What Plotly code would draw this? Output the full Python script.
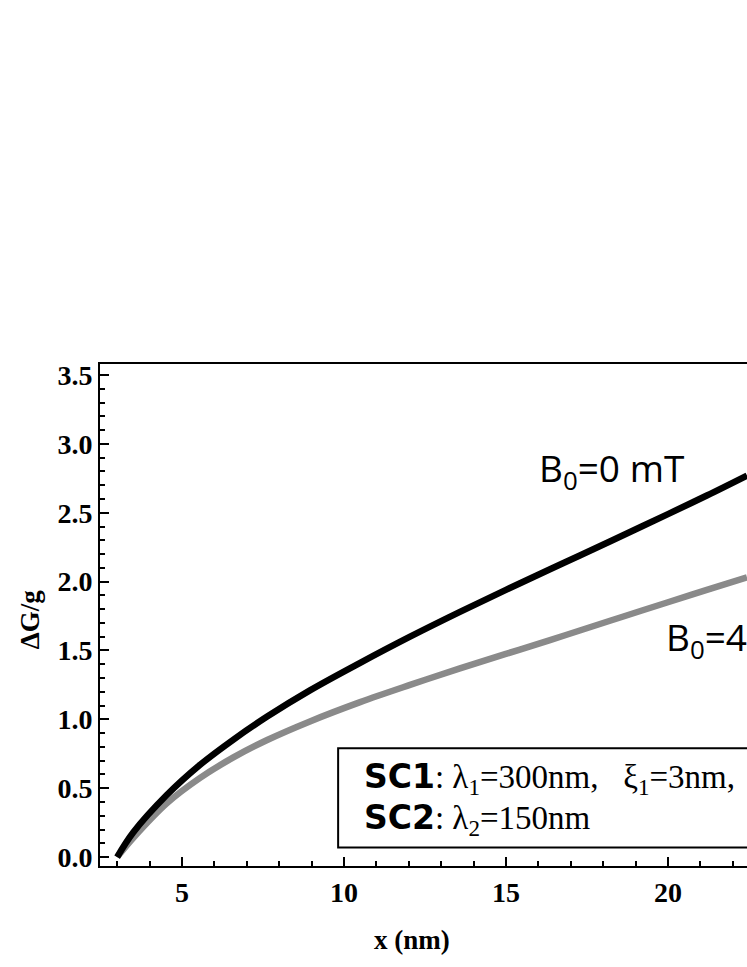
import plotly.graph_objects as go

# values
x_nm = [3.0, 3.5, 4.53, 5.56, 6.6, 7.63, 8.95, 10.5, 12.04, 13.58, 15.0, 16.36, 17.28, 18.6, 20.0, 21.2, 22.44]
dg_b0_0 = [0.0, 0.18, 0.45, 0.67, 0.855, 1.02, 1.21, 1.41, 1.60, 1.78, 1.94, 2.09, 2.19, 2.335, 2.49, 2.625, 2.77]
dg_b0_40 = [0.0, 0.14, 0.39, 0.575, 0.725, 0.85, 0.985, 1.125, 1.25, 1.37, 1.475, 1.575, 1.645, 1.745, 1.85, 1.94, 2.03]

x_ticks = [5, 10, 15, 20]
y_ticks = [0.0, 0.5, 1.0, 1.5, 2.0, 2.5, 3.0, 3.5]

SERIF = "Liberation Serif, Times New Roman, serif"
SANS = "Open Sans, Liberation Sans, sans-serif"

fig = go.Figure()
fig.add_trace(go.Scatter(x=x_nm, y=dg_b0_40, mode="lines",
                         line=dict(color="#8a8a8a", width=6.5, shape="spline", smoothing=1.0), showlegend=False))
fig.add_trace(go.Scatter(x=x_nm, y=dg_b0_0, mode="lines",
                         line=dict(color="#000000", width=6.5, shape="spline", smoothing=1.0), showlegend=False))

_axis = dict(showline=True, linecolor="black", linewidth=2, showgrid=False, zeroline=False,
             ticks="inside", tickcolor="black", tickwidth=2, ticklen=9,
             tickfont=dict(family=SERIF, size=28, color="black", weight="bold"))

fig.update_xaxes(**_axis, range=[2.47, 22.44], tickvals=x_ticks, mirror=True,
                 minor=dict(ticks="inside", dtick=1, tick0=0, ticklen=5, tickwidth=2, tickcolor="black"))
fig.update_yaxes(**_axis, range=[-0.065, 3.58], tickvals=y_ticks, tickformat=".1f",
                 minor=dict(ticks="inside", dtick=0.1, tick0=0, ticklen=5, tickwidth=2, tickcolor="black"))

# parameter box
fig.add_shape(type="rect", xref="x", yref="y", x0=9.82, x1=30, y0=0.07, y1=0.79,
              line=dict(color="black", width=2), fillcolor="white", layer="above")

sc = "<span style='font-family:DejaVu Sans'><b>%s</b></span>"
fig.add_annotation(xref="x", yref="y", x=10.56, y=0.57, xanchor="left", yanchor="middle", showarrow=False,
                   text=sc % "SC1" + ": λ<sub>1</sub>=300nm,   ξ<sub>1</sub>=3nm,",
                   font=dict(family=SERIF, size=33, color="black"))
fig.add_annotation(xref="x", yref="y", x=10.56, y=0.27, xanchor="left", yanchor="middle", showarrow=False,
                   text=sc % "SC2" + ": λ<sub>2</sub>=150nm",
                   font=dict(family=SERIF, size=33, color="black"))

# curve labels
fig.add_annotation(xref="x", yref="y", x=15.95, y=2.81, xanchor="left", yanchor="middle", showarrow=False,
                   text="B<sub>0</sub>=0 mT", font=dict(family=SANS, size=37, color="black"))
fig.add_annotation(xref="x", yref="y", x=19.88, y=1.58, xanchor="left", yanchor="middle", showarrow=False,
                   text="B<sub>0</sub>=40 mT", font=dict(family=SANS, size=37, color="black"))

# axis titles
fig.add_annotation(xref="paper", yref="paper", x=-0.108, y=0.49, xanchor="center", yanchor="middle",
                   textangle=-90, showarrow=False,
                   text="<b>ΔG/g</b>", font=dict(family=SERIF, size=27, color="black"))
fig.add_annotation(xref="paper", yref="paper", x=0.482, y=-0.147, xanchor="center", yanchor="middle",
                   showarrow=False,
                   text="<b>x (nm)</b>", font=dict(family=SERIF, size=27, color="black"))

fig.update_layout(width=747, height=967, plot_bgcolor="white", paper_bgcolor="white",
                  margin=dict(l=100, r=0, t=364, b=101), showlegend=False,
                  font=dict(family=SERIF, color="black"))

fig.write_html("out.html", config={"displayModeBar": False},
               post_script="document.body.style.margin='0';")
